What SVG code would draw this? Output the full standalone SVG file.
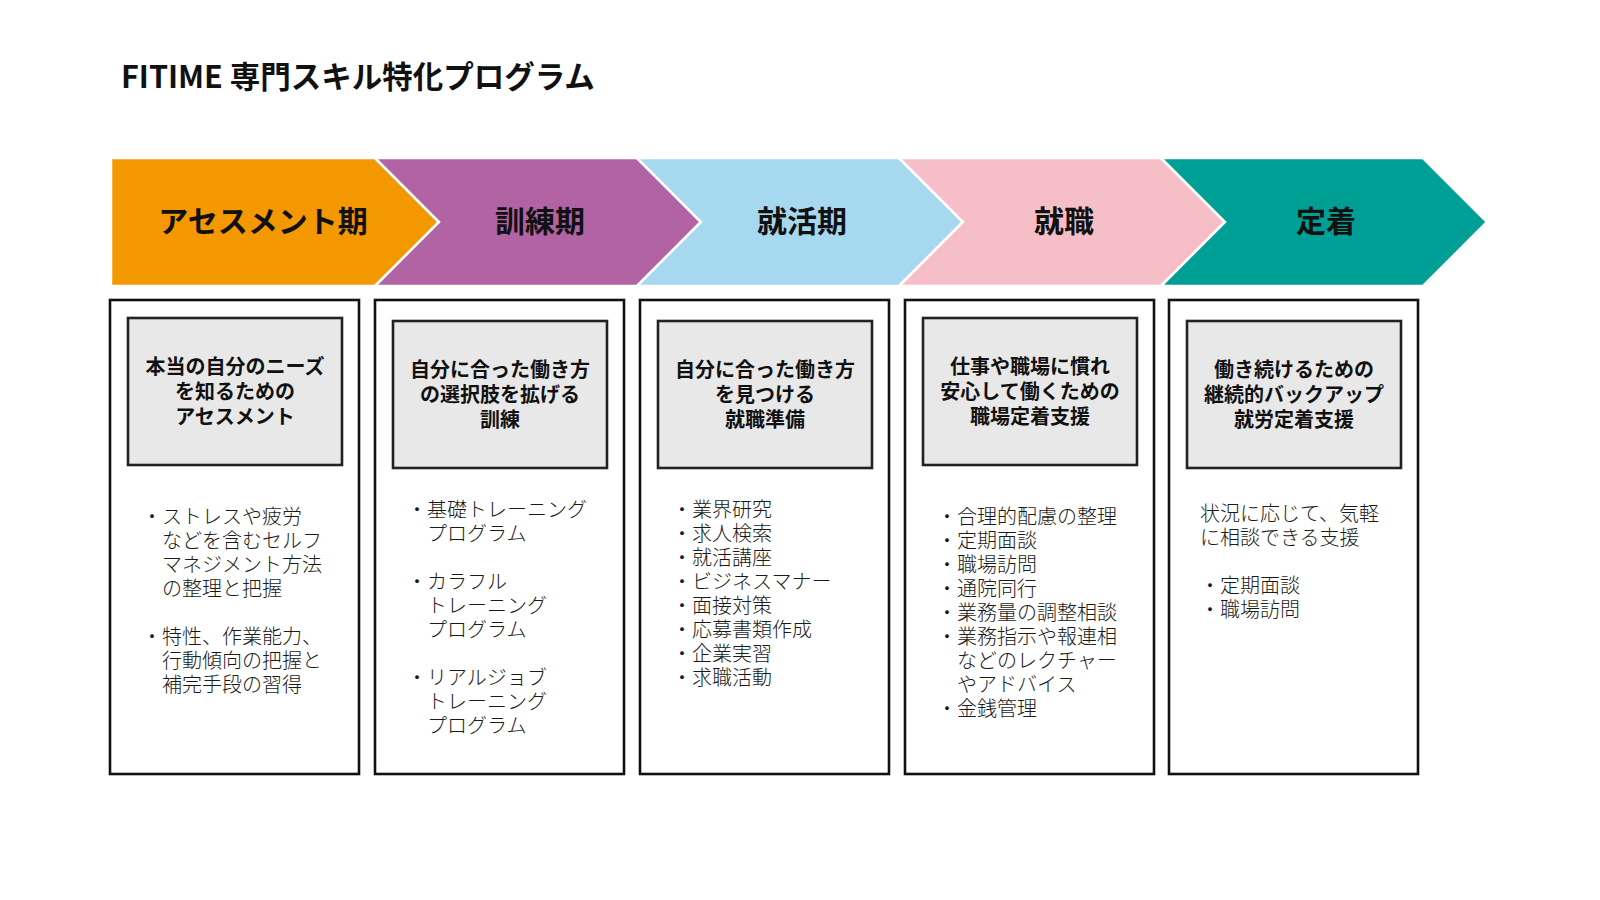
<svg xmlns="http://www.w3.org/2000/svg" width="1600" height="900" viewBox="0 0 1600 900">
<style>
text{font-family:"Noto Sans CJK JP","Noto Sans",sans-serif;}
.title{font-size:30.5px;font-weight:700;fill:#111;}
.phase{font-size:30px;font-weight:700;fill:#111;text-anchor:middle;dominant-baseline:central;}
.chev{stroke:#fff;stroke-width:2.5;stroke-linejoin:miter;}
.outer{fill:#fff;stroke:#111;stroke-width:2.6;}
.inner{fill:#e8e8e8;stroke:#222;stroke-width:2.6;}
.head{font-size:20px;font-weight:700;fill:#111;text-anchor:middle;dominant-baseline:central;}
.body{font-size:20px;font-weight:300;fill:#1a1a1a;dominant-baseline:central;}
</style>
<rect width="1600" height="900" fill="#fff"/>
<text class="title" x="121" y="88">FITIME 専門スキル特化プログラム</text>

<g id="phase-assessment">
<polygon class="chev" fill="#F39800" points="111,158 375,158 439,222 375,286 111,286"/>
<text class="phase" x="263" y="219">アセスメント期</text>
<rect class="outer" x="110" y="300" width="249" height="474"/>
<rect class="inner" x="128" y="318" width="214" height="147"/>
<text class="head" x="235" y="365">本当の自分のニーズ<tspan x="235" dy="25">を知るための</tspan><tspan x="235" dy="25">アセスメント</tspan></text>
<text class="body" x="142" y="515">・ストレスや疲労<tspan x="162" dy="24">などを含むセルフ</tspan><tspan x="162" dy="24">マネジメント方法</tspan><tspan x="162" dy="24">の整理と把握</tspan></text>
<text class="body" x="142" y="635">・特性、作業能力、<tspan x="162" dy="24">行動傾向の把握と</tspan><tspan x="162" dy="24">補完手段の習得</tspan></text>
</g>

<g id="phase-training">
<polygon class="chev" fill="#B263A4" points="375,158 637,158 701,222 637,286 375,286 439,222"/>
<text class="phase" x="540" y="219">訓練期</text>
<rect class="outer" x="375" y="300" width="249" height="474"/>
<rect class="inner" x="393" y="321" width="214" height="147"/>
<text class="head" x="500" y="368">自分に合った働き方<tspan x="500" dy="25">の選択肢を拡げる</tspan><tspan x="500" dy="25">訓練</tspan></text>
<text class="body" x="407" y="508">・基礎トレーニング<tspan x="427" dy="24">プログラム</tspan></text>
<text class="body" x="407" y="580">・カラフル<tspan x="427" dy="24">トレーニング</tspan><tspan x="427" dy="24">プログラム</tspan></text>
<text class="body" x="407" y="676">・リアルジョブ<tspan x="427" dy="24">トレーニング</tspan><tspan x="427" dy="24">プログラム</tspan></text>
</g>

<g id="phase-jobhunting">
<polygon class="chev" fill="#A6D8EF" points="637,158 899,158 963,222 899,286 637,286 701,222"/>
<text class="phase" x="802" y="219">就活期</text>
<rect class="outer" x="640" y="300" width="249" height="474"/>
<rect class="inner" x="658" y="321" width="214" height="147"/>
<text class="head" x="765" y="368">自分に合った働き方<tspan x="765" dy="25">を見つける</tspan><tspan x="765" dy="25">就職準備</tspan></text>
<text class="body" x="672" y="508">・業界研究<tspan x="672" dy="24">・求人検索</tspan><tspan x="672" dy="24">・就活講座</tspan><tspan x="672" dy="24">・ビジネスマナー</tspan><tspan x="672" dy="24">・面接対策</tspan><tspan x="672" dy="24">・応募書類作成</tspan><tspan x="672" dy="24">・企業実習</tspan><tspan x="672" dy="24">・求職活動</tspan></text>
</g>

<g id="phase-employment">
<polygon class="chev" fill="#F6BFC7" points="899,158 1161,158 1225,222 1161,286 899,286 963,222"/>
<text class="phase" x="1064" y="219">就職</text>
<rect class="outer" x="905" y="300" width="249" height="474"/>
<rect class="inner" x="923" y="318" width="214" height="147"/>
<text class="head" x="1030" y="365">仕事や職場に慣れ<tspan x="1030" dy="25">安心して働くための</tspan><tspan x="1030" dy="25">職場定着支援</tspan></text>
<text class="body" x="937" y="515">・合理的配慮の整理<tspan x="937" dy="24">・定期面談</tspan><tspan x="937" dy="24">・職場訪問</tspan><tspan x="937" dy="24">・通院同行</tspan><tspan x="937" dy="24">・業務量の調整相談</tspan><tspan x="937" dy="24">・業務指示や報連相</tspan><tspan x="957" dy="24">などのレクチャー</tspan><tspan x="957" dy="24">やアドバイス</tspan><tspan x="937" dy="24">・金銭管理</tspan></text>
</g>

<g id="phase-retention">
<polygon class="chev" fill="#009F96" points="1161,158 1423,158 1487,222 1423,286 1161,286 1225,222"/>
<text class="phase" x="1326" y="219">定着</text>
<rect class="outer" x="1169" y="300" width="249" height="474"/>
<rect class="inner" x="1187" y="321" width="214" height="147"/>
<text class="head" x="1294" y="368">働き続けるための<tspan x="1294" dy="25">継続的バックアップ</tspan><tspan x="1294" dy="25">就労定着支援</tspan></text>
<text class="body" x="1200" y="512">状況に応じて、気軽<tspan x="1200" dy="24">に相談できる支援</tspan></text>
<text class="body" x="1200" y="584">・定期面談<tspan x="1200" dy="24">・職場訪問</tspan></text>
</g>

<g id="connectors"></g>
</svg>
